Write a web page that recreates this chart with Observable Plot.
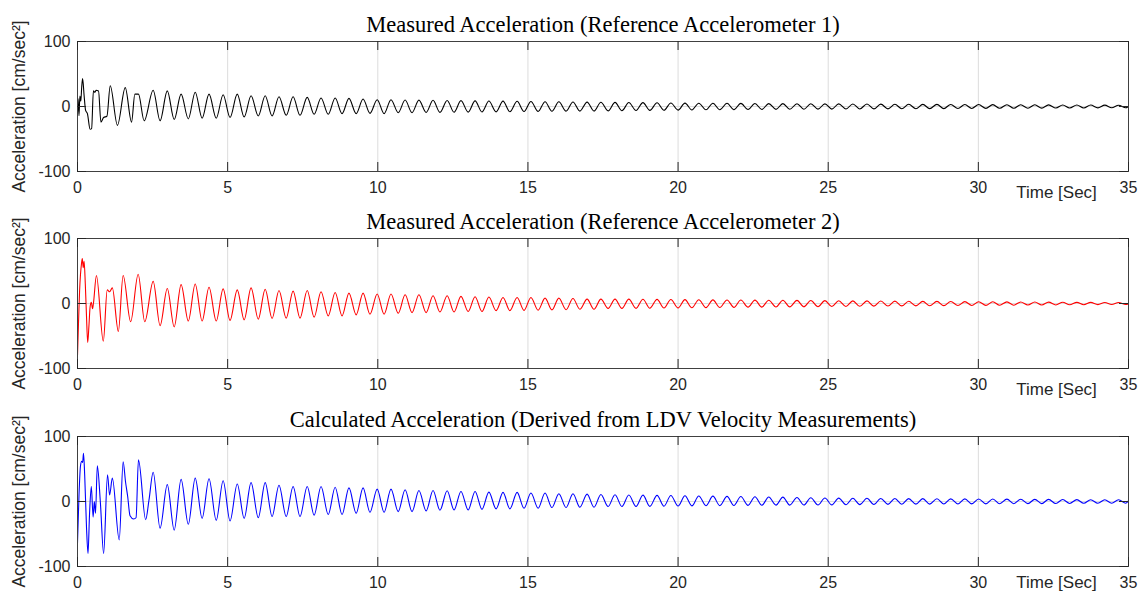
<!DOCTYPE html>
<html><head><meta charset="utf-8">
<script src="https://cdn.jsdelivr.net/npm/d3@7"></script>
<script src="https://cdn.jsdelivr.net/npm/@observablehq/plot@0.6"></script>
<style>
body{margin:0;background:#fff;}
#chart svg{display:block;overflow:visible}
</style>
</head><body><div id="chart"></div>
<script>
// ---- tick labels / axes ----
const xTicks = [0, 5, 10, 15, 20, 25, 30, 35];
const gridX = [5, 10, 15, 20, 25, 30];
const yTicks = [-100, 0, 100];
const xLabel = "Time [Sec]";
const yLabel = "Acceleration [cm/sec²]";
const titles = [
  "Measured Acceleration (Reference Accelerometer 1)",
  "Measured Acceleration (Reference Accelerometer 2)",
  "Calculated Acceleration (Derived from LDV Velocity Measurements)"
];

// ---- times of the regular oscillation extrema (peaks & troughs) ----
const tRegular = [
  2.52, 2.75, 2.99, 3.22, 3.45, 3.69, 3.92, 4.15, 4.38, 4.62,
  4.85, 5.08, 5.32, 5.55, 5.78, 6.02, 6.25, 6.48, 6.71, 6.95,
  7.18, 7.41, 7.65, 7.88, 8.11, 8.35, 8.58, 8.81, 9.04, 9.28,
  9.51, 9.74, 9.98, 10.21, 10.44, 10.68, 10.91, 11.14, 11.37, 11.61,
  11.84, 12.07, 12.31, 12.54, 12.77, 13.01, 13.24, 13.47, 13.70, 13.94,
  14.17, 14.40, 14.64, 14.87, 15.10, 15.34, 15.57, 15.80, 16.03, 16.27,
  16.50, 16.73, 16.97, 17.20, 17.43, 17.67, 17.90, 18.13, 18.36, 18.60,
  18.83, 19.06, 19.30, 19.53, 19.76, 20.00, 20.23, 20.46, 20.69, 20.93,
  21.16, 21.39, 21.63, 21.86, 22.09, 22.33, 22.56, 22.79, 23.02, 23.26,
  23.49, 23.72, 23.96, 24.19, 24.42, 24.66, 24.89, 25.12, 25.35, 25.59,
  25.82, 26.05, 26.29, 26.52, 26.75, 26.99, 27.22, 27.45, 27.68, 27.92,
  28.15, 28.38, 28.62, 28.85, 29.08, 29.32, 29.55, 29.78, 30.01, 30.25,
  30.48, 30.71, 30.95, 31.18, 31.41, 31.65, 31.88, 32.11, 32.34, 32.58,
  32.81, 33.04, 33.28, 33.51, 33.74, 33.98, 34.21, 34.44, 34.67, 34.91
];

// ---- Accelerometer 1 (black) ----
const acc1EarlyT = [0, 0.02, 0.05, 0.08, 0.11, 0.14, 0.17, 0.22, 0.27, 0.33, 0.42, 0.47, 0.53, 0.58, 0.62, 0.70, 0.78, 0.87, 0.98, 1.09, 1.33, 1.59, 1.80, 1.91, 2.03, 2.22];
const acc1EarlyV = [-8, 12, -14, 16, 8, 30, 43, 17, -6, -11, -35, -34, 24, 22, 25, 24, -24, -17, -15, 32, -29, 29, -24, 19, 19, -22];
const acc1Regular = [
  25, -22, 24, -20, 19, -19, 22, -18, 19, -18,
  18, -17, 19, -16, 16.5, -14.5, 16.5, -14.5, 15, -13.5,
  15, -13.5, 14, -12, 13, -12, 13, -11, 12.5, -11,
  11.5, -10.5, 10.5, -11, 10.5, -9.5, 10, -9.5, 9.8, -9.2,
  9.5, -9, 9.2, -8.8, 9, -8.6, 8.7, -8.4, 8.4, -8.2,
  8.2, -8, 8, -7.8, 7.7, -7.6, 7.4, -7.4, 7.2, -7.2,
  7, -7.1, 6.8, -7, 6.5, -6.8, 6.3, -6.5, 6.1, -6.2,
  5.9, -6, 5.7, -5.8, 5.5, -5.5, 5.2, -5.3, 5.1, -5.1,
  5, -5, 4.9, -4.9, 4.8, -4.7, 4.6, -4.6, 4.5, -4.4,
  4.4, -4.3, 4.3, -4.2, 4.2, -4.1, 4.1, -4, 4, -3.9,
  3.9, -3.8, 3.8, -3.7, 3.6, -3.6, 3.5, -3.5, 3.4, -3.4,
  3.3, -3.3, 3.2, -3.2, 3.1, -3.1, 3, -3, 3, -2.9,
  2.9, -2.8, 2.8, -2.7, 2.7, -2.6, 2.6, -2.5, 2.5, -2.4,
  2.4, -2.3, 2.3, -2.2, 2.2, -2.1, 2.1, -2, 2, -2
];
const acc1End = [35, 0];

// ---- Accelerometer 2 (red) ----
const acc2EarlyT = [0, 0.04, 0.07, 0.10, 0.13, 0.16, 0.19, 0.22, 0.26, 0.30, 0.34, 0.38, 0.42, 0.46, 0.50, 0.53, 0.63, 0.86, 0.99, 1.07, 1.16, 1.36, 1.52, 1.77, 2.02, 2.24];
const acc2EarlyV = [-80, -20, 20, 45, 60, 69, 55, 65, 30, -20, -60, -35, -5, 2, -8, 0, 43, -58, 21, 18, 24, -43, 43, -28, 45, -28];
const acc2Regular = [
  34, -34, 23, -36, 29, -27, 30, -27, 25, -27,
  22.5, -26, 21, -25, 24, -24, 22, -23, 20, -22.5,
  19, -22.5, 20, -21, 18, -19, 17, -19, 16, -17.5,
  16, -16.5, 14.5, -16.5, 14.5, -15, 13.4, -14, 13.4, -14,
  12, -13, 12, -13, 11, -12.4, 10.3, -12.4, 10, -11,
  9.3, -11, 9.3, -10.5, 9.3, -10.3, 8.3, -9.8, 8.3, -9.5,
  7.7, -8.8, 6.7, -8.8, 6.7, -7.7, 6.7, -7.7, 6.7, -7.5,
  6.5, -7.3, 6.3, -7, 6.1, -6.8, 6, -6.5, 5.8, -6.3,
  5.6, -6.1, 5.5, -5.9, 5.3, -5.7, 5.2, -5.5, 5, -5.3,
  4.9, -5.2, 4.8, -5, 4.6, -4.9, 4.5, -4.7, 4.3, -4.5,
  4.1, -4.3, 4, -4.1, 3.8, -3.9, 3.6, -3.7, 3.5, -3.6,
  3.3, -3.4, 3.2, -3.3, 3, -3.1, 2.9, -3, 2.8, -2.9,
  2.7, -2.7, 2.5, -2.6, 2.4, -2.4, 2.2, -2.3, 2.1, -2.2,
  2, -2, 1.8, -1.9, 1.7, -1.7, 1.6, -1.5, 1.5, -1.5
];
const acc2End = [35, -1];

// ---- LDV derived (blue) ----
const ldvEarlyT = [0, 0.05, 0.10, 0.14, 0.17, 0.20, 0.24, 0.30, 0.35, 0.40, 0.46, 0.52, 0.56, 0.60, 0.66, 0.76, 0.87, 1.00, 1.07, 1.16, 1.39, 1.52, 1.60, 1.67, 1.75, 1.87, 1.95, 2.03, 2.27, 2.38];
const ldvEarlyV = [-64, 10, 55, 62, 60, 74, 40, -40, -80, -20, 23, -24, 0, -18, 55, 0, -80, 41, 10, 36, -59, 61, 30, 8, -22, -27, -25, 64, -28, 2];
const ldvRegular = [
  45, -41, 26, -44, 34, -35, 36, -26, 35, -29,
  32, -30, 27, -26, 29, -25, 29, -23, 25, -23,
  23, -23, 23, -21, 23, -20, 22, -20, 21, -18,
  21, -16.5, 19, -16.5, 19, -15.5, 18, -15.5, 17, -14.5,
  17, -13.4, 16.5, -13, 15.5, -13, 15.5, -12, 14.5, -11.4,
  14, -11.4, 14, -10.3, 13, -10.3, 13, -9.3, 12, -9.3,
  12, -8.8, 11.4, -8.8, 10.8, -7.7, 10.3, -7.7, 10, -7.7,
  9.8, -7.5, 9.5, -7.2, 9.2, -7, 8.8, -6.7, 8.5, -6.5,
  8.2, -6.3, 7.9, -6.1, 7.6, -5.9, 7.3, -5.8, 7, -5.6,
  6.7, -5.5, 6.2, -5.4, 5.8, -5.3, 5.4, -5.2, 5.2, -5,
  5, -4.8, 4.9, -4.6, 4.7, -4.4, 4.6, -4.2, 4.5, -4.1,
  4.4, -4, 4.2, -3.9, 4.1, -3.8, 4, -3.7, 3.9, -3.6,
  3.8, -3.5, 3.6, -3.4, 3.5, -3.3, 3.3, -3.2, 3.2, -3.1,
  3, -3, 2.9, -2.8, 2.8, -2.7, 2.6, -2.6, 2.6, -2.6
];
const ldvEnd = [35, 1];

function series(earlyT, earlyV, regular, end) {
  const rows = earlyT.map((t, i) => ({t, v: earlyV[i]}));
  tRegular.forEach((t, i) => rows.push({t, v: regular[i]}));
  rows.push({t: end[0], v: end[1]});
  return rows;
}

const AX = "#262626";
function panel({title, data, color, height, mt, mb, xLabelDy}) {
  const W = 1143, ml = 77, mr = 15;
  const ph = height - mt - mb, pw = W - ml - mr;
  return Plot.plot({
    width: W, height, marginLeft: ml, marginRight: mr, marginTop: mt, marginBottom: mb,
    style: {fontFamily: "'Liberation Sans', Arial, sans-serif", background: "white", overflow: "visible", color: AX},
    x: {domain: [0, 35]},
    y: {domain: [-100, 100]},
    marks: [
      Plot.ruleX(gridX, {x: d => d, stroke: "#dcdcdc", strokeWidth: 1}),
      Plot.ruleY([0], {y: d => d, stroke: "#dcdcdc", strokeWidth: 1}),
      Plot.line(data, {x: "t", y: "v", stroke: color, strokeWidth: 1.1, curve: "monotone-x", clip: true}),
      Plot.frame({stroke: "#404040", strokeWidth: 1}),
      Plot.tickX(xTicks, {x: d => d, insetTop: ph - 9, stroke: AX}),
      Plot.tickX(xTicks, {x: d => d, insetBottom: ph - 9, stroke: AX}),
      Plot.tickY(yTicks, {y: d => d, insetRight: pw - 9, stroke: AX}),
      Plot.tickY(yTicks, {y: d => d, insetLeft: pw - 9, stroke: AX}),
      Plot.axisX({ticks: xTicks, tickSize: 0, tickPadding: 10, fontSize: 16, label: null, tickFormat: d => String(d)}),
      Plot.axisY({ticks: yTicks, tickSize: 0, tickPadding: 7, fontSize: 16, label: null, tickFormat: d => String(d)}),
      Plot.text([xLabel], {text: d => d, frameAnchor: "bottom-right", dx: -72, dy: xLabelDy, textAnchor: "middle", lineAnchor: "middle", fontSize: 17, fill: AX}),
      Plot.text([title], {text: d => d, frameAnchor: "top", dy: -9.5, lineAnchor: "bottom", textAnchor: "middle", fontFamily: "'Liberation Serif', 'Times New Roman', serif", fontSize: 22.5, fill: "#000"}),
      Plot.text([yLabel], {text: d => d, frameAnchor: "left", dx: -58, rotate: -90, textAnchor: "middle", lineAnchor: "middle", fontSize: 17.5, fill: AX})
    ]
  });
}

const chart = document.getElementById("chart");
chart.append(panel({title: titles[0], data: series(acc1EarlyT, acc1EarlyV, acc1Regular, acc1End), color: "#000000", height: 197, mt: 41, mb: 26, xLabelDy: 21}));
chart.append(panel({title: titles[1], data: series(acc2EarlyT, acc2EarlyV, acc2Regular, acc2End), color: "#ff0000", height: 199, mt: 41, mb: 28, xLabelDy: 21}));
chart.append(panel({title: titles[2], data: series(ldvEarlyT, ldvEarlyV, ldvRegular, ldvEnd), color: "#0000ff", height: 196, mt: 40, mb: 26, xLabelDy: 16}));
</script>
</body></html>
